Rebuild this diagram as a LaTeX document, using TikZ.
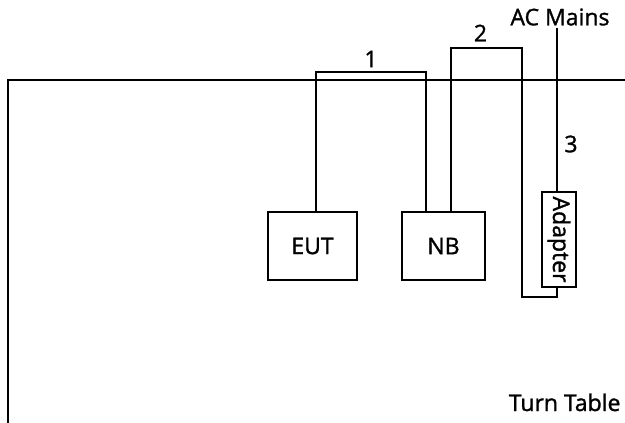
\documentclass[tikz,border=0pt]{standalone}
\usepackage{fontspec}
\setmainfont{Open Sans}[AutoFakeBold=1.3]
\usetikzlibrary{positioning, calc}

\tikzset{
  unit/.style={draw, line width=2pt, minimum width=89pt, minimum height=68pt, inner sep=0pt},
  cable/.style={line width=2pt},
  lbl/.style={font=\fontsize{23}{26}\selectfont\bfseries}
}

\begin{document}
\begin{tikzpicture}[x=1pt, y=-1pt]
    \useasboundingbox (0,0) rectangle (625,423);

    % turn table
    \draw[cable] (625,80) -- (8,80) -- (8,423);
    \node[lbl, anchor=base east] (tt) at (624,411) {Turn Table};

    % units
    \node[unit, lbl] (eut) at (312.5,246) {EUT};
    \node[unit, lbl, minimum width=83pt] (nb) at (443.5,246) {NB};
    \node[unit, lbl, minimum width=95pt, minimum height=34pt, rotate=-90] (adp) at (559,239.5) {Adapter};

    % cable 1
    \coordinate (c1l) at (316,72);
    \coordinate (c1r) at (426,72);
    \draw[cable] (eut.north -| c1l) -- (c1l) -- (c1r) -- (nb.north -| c1r);
    \node[lbl] (n1) at ($0.5*(c1l) + 0.5*(c1r) + (0,-13)$) {1};

    % cable 2
    \coordinate (c2l) at (451,48);
    \coordinate (c2r) at (522,48);
    \coordinate (c2b) at (522,297);
    \coordinate (c2e) at (557,297);
    \draw[cable] (nb.north -| c2l) -- (c2l) -- (c2r) -- (c2b) -- (c2e) -- (c2e |- adp.east);
    \node[lbl] (n2) at ($0.5*(c2l) + 0.5*(c2r) + (-6,-15)$) {2};

    % ac mains
    \node[lbl] (ac) at (560,17) {AC Mains};
    \coordinate (ac0) at (557,28);
    \draw[cable] (ac0) -- (ac0 |- adp.west);
    \node[lbl] (n3) at (571,144) {3};
\end{tikzpicture}
\end{document}
